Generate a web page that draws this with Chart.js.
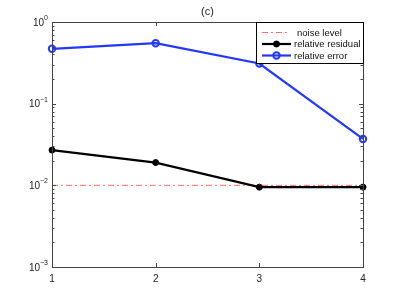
<!DOCTYPE html>
<html>
<head>
<meta charset="utf-8">
<script src="https://cdn.jsdelivr.net/npm/chart.js@4"></script>
<style>
html, body { margin: 0; padding: 0; background: #fff; }
</style>
</head>
<body>
<canvas id="chart" width="401" height="301"></canvas>
<script>
// values
var iterations = [1, 2, 3, 4]
var relError = [0.47, 0.55, 0.31, 0.037]
var relResidual = [0.027, 0.019, 0.0095, 0.0095]
var noiseLevel = [0.01, 0.01, 0.01, 0.01]
var yDecades = [1, 0.1, 0.01, 0.001]
var yExponents = ['0', '\u22121', '\u22122', '\u22123']
var legendLabels = ['noise level', 'relative residual', 'relative error']

var FONT = '"Liberation Sans", Arial, Helvetica, sans-serif'

function points(values) {
    return iterations.map((x, i) => ({ x: x, y: values[i] }))
}

// matlab-ish box, inward ticks, decade labels, title and legend
var matlabAxes = {
    id: 'matlabAxes',
    afterDatasetsDraw: function (chart) {
        var ctx = chart.ctx
        var a = chart.chartArea
        var xs = chart.scales.x
        var ys = chart.scales.y
        ctx.save()
        ctx.strokeStyle = '#444'
        ctx.lineWidth = 1
        ctx.strokeRect(a.left + 0.5, a.top + 0.5, a.right - a.left, a.bottom - a.top)

        ctx.beginPath()
        iterations.forEach(function (v) {
            var px = Math.round(xs.getPixelForValue(v)) + 0.5
            ctx.moveTo(px, a.bottom); ctx.lineTo(px, a.bottom - 4)
            ctx.moveTo(px, a.top); ctx.lineTo(px, a.top + 4)
        })
        yDecades.forEach(function (d) {
            var py = Math.round(ys.getPixelForValue(d)) + 0.5
            ctx.moveTo(a.left, py); ctx.lineTo(a.left + 4, py)
            ctx.moveTo(a.right, py); ctx.lineTo(a.right - 4, py)
            if (d < 1) {
                for (var m = 2; m <= 9; m++) {
                    var pm = Math.round(ys.getPixelForValue(d * m)) + 0.5
                    ctx.moveTo(a.left, pm); ctx.lineTo(a.left + 2.5, pm)
                    ctx.moveTo(a.right, pm); ctx.lineTo(a.right - 2.5, pm)
                }
            }
        })
        ctx.stroke()

        // y labels as 10 with a raised exponent
        ctx.fillStyle = '#222'
        ctx.textBaseline = 'middle'
        yDecades.forEach(function (d, i) {
            var py = ys.getPixelForValue(d)
            ctx.font = '7px ' + FONT
            var ew = ctx.measureText(yExponents[i]).width
            var right = a.left - 4
            ctx.textAlign = 'left'
            ctx.fillText(yExponents[i], right - ew, py - 4)
            ctx.font = '10px ' + FONT
            ctx.textAlign = 'right'
            ctx.fillText('10', right - ew, py + 1)
        })

        // title
        ctx.font = '11px ' + FONT
        ctx.textAlign = 'center'
        ctx.fillText('(c)', (a.left + a.right) / 2, 12)
        ctx.restore()
    },
    afterDraw: function (chart) {
        var ctx = chart.ctx
        var a = chart.chartArea
        var x0 = 256, y0 = a.top, x1 = a.right, y1 = 63
        ctx.save()
        ctx.fillStyle = '#fff'
        ctx.fillRect(x0, y0, x1 - x0, y1 - y0)
        ctx.strokeStyle = '#000'
        ctx.lineWidth = 1
        ctx.strokeRect(x0 + 0.5, y0 + 0.5, x1 - x0, y1 - y0)

        var rows = [32.5, 44, 55.5]
        var textX = [297, 294, 294]
        var lineEnd = [289, 291, 291]
        var datasets = chart.data.datasets
        rows.forEach(function (ry, i) {
            var ds = datasets[i]
            ctx.beginPath()
            ctx.strokeStyle = ds.borderColor
            ctx.lineWidth = ds.borderWidth
            ctx.setLineDash(ds.borderDash || [])
            ctx.moveTo(262, ry); ctx.lineTo(lineEnd[i], ry)
            ctx.stroke()
            ctx.setLineDash([])
            if (ds.pointRadius > 0) {
                ctx.beginPath()
                ctx.arc(276.5, ry, ds.pointRadius, 0, Math.PI * 2)
                ctx.fillStyle = ds.pointBackgroundColor
                ctx.fill()
                ctx.lineWidth = ds.pointBorderWidth
                ctx.strokeStyle = ds.pointBorderColor
                ctx.stroke()
            }
            ctx.fillStyle = '#111'
            ctx.font = '9.5px ' + FONT
            ctx.textAlign = 'left'
            ctx.textBaseline = 'middle'
            ctx.fillText(ds.label, textX[i], ry + 0.5)
        })
        ctx.restore()
    }
}

var data = {
    datasets: [{
        label: legendLabels[0],
        data: points(noiseLevel),
        borderColor: 'rgb(255, 110, 110)',
        borderWidth: 1,
        borderDash: [6, 3, 2, 3],
        pointRadius: 0,
        order: 2
    }, {
        label: legendLabels[1],
        data: points(relResidual),
        borderColor: '#000',
        borderWidth: 2.2,
        pointRadius: 3,
        pointBackgroundColor: '#000',
        pointBorderColor: '#000',
        pointBorderWidth: 1,
        order: 1
    }, {
        label: legendLabels[2],
        data: points(relError),
        borderColor: 'rgb(35, 55, 255)',
        borderWidth: 2.2,
        pointRadius: 3.2,
        pointBackgroundColor: 'rgba(0,0,0,0)',
        pointBorderColor: 'rgb(35, 55, 255)',
        pointBorderWidth: 2,
        order: 0
    }]
}

var ctx = document.getElementById('chart')

new Chart(ctx, {
    type: 'line',
    data: data,
    options: {
        responsive: false,
        animation: false,
        clip: false,
        layout: {
            padding: { top: 22, right: 38, left: 0, bottom: 0 }
        },
        elements: { line: { tension: 0 } },
        plugins: {
            legend: { display: false },
            tooltip: { enabled: false }
        },
        scales: {
            x: {
                type: 'linear',
                min: 1,
                max: 4,
                grid: { display: false, drawTicks: false },
                border: { display: false },
                ticks: {
                    stepSize: 1,
                    padding: 6,
                    color: '#222',
                    font: { size: 10, family: FONT }
                },
                afterFit: function (s) { s.height = 34 }
            },
            y: {
                type: 'logarithmic',
                min: 0.001,
                max: 1,
                grid: { display: false, drawTicks: false },
                border: { display: false },
                ticks: { display: false },
                afterFit: function (s) { s.width = 52 }
            }
        }
    },
    plugins: [matlabAxes]
})
</script>
</body>
</html>
